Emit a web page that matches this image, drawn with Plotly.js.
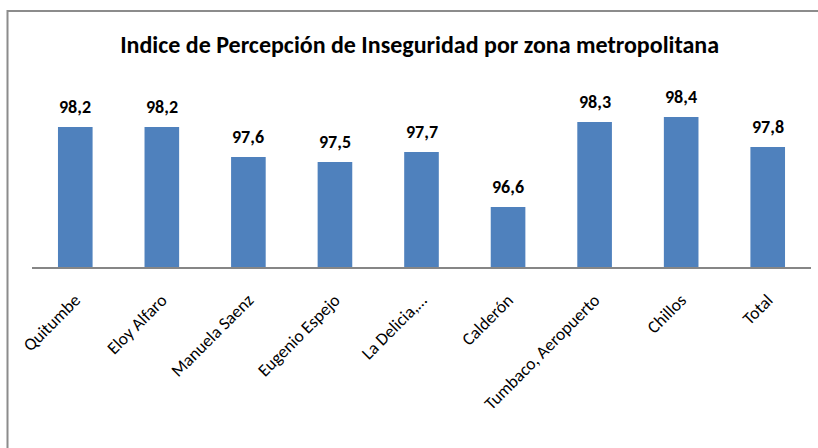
<!DOCTYPE html>
<html>
<head>
<meta charset="utf-8">
<script src="https://cdn.plot.ly/plotly-3.0.1.min.js"></script>
<style>html,body{margin:0;padding:0;background:#fff;}#chart{width:818px;height:448px;}</style>
</head>
<body>
<div id="chart"></div>
<script>
const categories = ["Quitumbe","Eloy Alfaro","Manuela Saenz","Eugenio Espejo","La Delicia,…","Calderón","Tumbaco, Aeropuerto","Chillos","Total"];
const values = [98.2, 98.2, 97.6, 97.5, 97.7, 96.6, 98.3, 98.4, 97.8];
const labels = ["98,2","98,2","97,6","97,5","97,7","96,6","98,3","98,4","97,8"];
const chartTitle = "Indice de Percepción de Inseguridad por zona metropolitana";

const FONT = "Carlito, 'Liberation Sans Narrow', 'Arial Narrow', sans-serif";

const trace = {
  type: 'bar',
  x: categories,
  y: values,
  marker: {color: '#4F81BD', line: {width: 0}},
  hoverinfo: 'skip'
};

const annotations = categories.map((c, i) => ({
  x: c, y: values[i], xref: 'x', yref: 'y',
  text: '<b>' + labels[i] + '</b>',
  showarrow: false, yanchor: 'bottom', yshift: 7,
  font: {family: FONT, size: 18, color: '#000'}
}));

const L = 32, R = 7, T = 87, B = 181;
const pw = 818 - L - R, ph = 448 - T - B;

const layout = {
  width: 818, height: 448,
  margin: {l: L, r: R, t: T, b: B, pad: 0},
  paper_bgcolor: '#fff', plot_bgcolor: '#fff',
  showlegend: false,
  bargap: 0.6,
  title: {text: '<b>' + chartTitle + '</b>', x: 0.513, xanchor: 'center', y: 0.9, yanchor: 'middle', yref: 'container',
          font: {family: FONT, size: 24, color: '#000'}},
  xaxis: {
    type: 'category', showline: true, linecolor: '#868686', linewidth: 2,
    showgrid: false, zeroline: false, ticks: '', tickangle: -45,
    ticklabelstandoff: 14,
    tickfont: {family: FONT, size: 17.5, color: '#000'}, fixedrange: true
  },
  yaxis: {
    range: [95.4, 99.0], visible: false, showgrid: false, zeroline: false, fixedrange: true
  },
  annotations: annotations,
  shapes: [{
    type: 'rect', xref: 'paper', yref: 'paper',
    x0: (7.5 - L) / pw, x1: (900 - L) / pw,
    y0: (448 - B - 520) / ph, y1: (448 - B - 11) / ph,
    line: {color: '#8c8c8c', width: 2}, layer: 'below'
  }]
};

Plotly.newPlot('chart', [trace], layout, {displayModeBar: false, staticPlot: true});
</script>
</body>
</html>
